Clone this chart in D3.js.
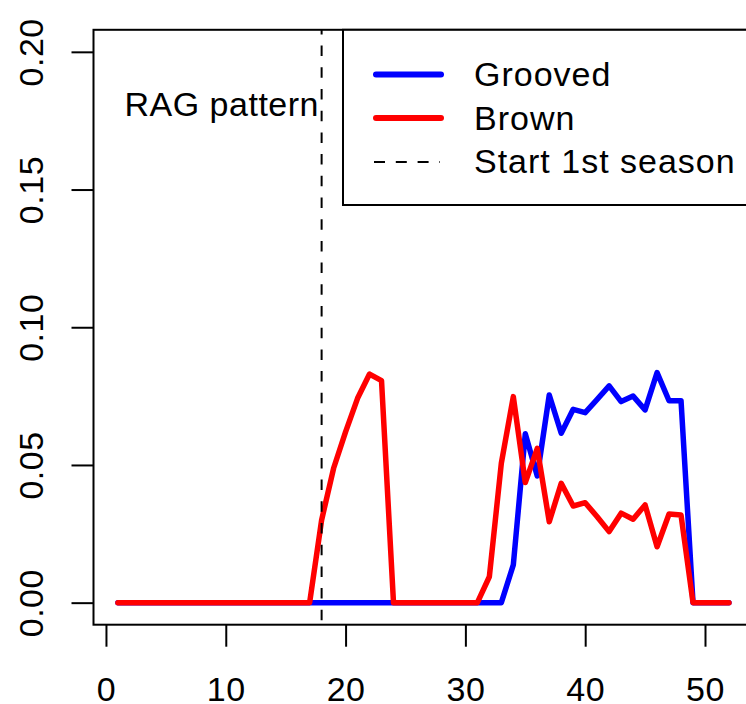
<!DOCTYPE html>
<html>
<head>
<meta charset="utf-8">
<script src="https://cdn.jsdelivr.net/npm/d3@7"></script>
<style>
  html, body { margin: 0; padding: 0; background: #fff; }
  svg text { font-family: "Liberation Sans", Arial, sans-serif; fill: #000; }
</style>
</head>
<body>
<svg id="chart" width="746" height="704"></svg>
<script>
// ---- data ----
const weeks = d3.range(1, 53); // 1..52
const grooved = [0,0,0,0,0,0,0,0,0,0, 0,0,0,0,0,0,0,0,0,0, 0,0,0,0,0,0,0,0,0,0,
  0,0,0,0.0137,0.0613,0.046,0.0754,0.0615,0.0702,0.069, 0.0738,0.0787,0.073,0.075,0.070,0.0835,0.0733,0.0733,0,0, 0,0];
const brown = [0,0,0,0,0,0,0,0,0,0, 0,0,0,0,0,0,0,0.030,0.0488,0.062, 0.0742,0.083,0.0806,0,0,0,0,0,0,0,
  0,0.0094,0.0506,0.0748,0.0436,0.056,0.0294,0.0433,0.0351,0.0363, 0.0312,0.0258,0.0325,0.0303,0.0355,0.0203,0.0322,0.0318,0,0, 0,0];
const xTicks = [0, 10, 20, 30, 40, 50];
const yTicks = [0, 0.05, 0.10, 0.15, 0.20];
const seasonStart = 18;
const legendLabels = ["Grooved", "Brown", "Start 1st season"];
const annotation = "RAG pattern";

// ---- layout ----
const svg = d3.select("#chart");
const x = d3.scaleLinear().domain([-1.04, 54.04]).range([93.5, 753.4]);
const y = d3.scaleLinear().domain([-0.008, 0.208]).range([624.7, 29.8]);
const FONT = 34;

// x axis
const gx = svg.append("g").attr("transform", `translate(0,${y.range()[0]})`)
  .call(d3.axisBottom(x).tickValues(xTicks).tickSize(22).tickFormat(d3.format("d")));
gx.select(".domain").remove();
gx.selectAll(".tick line").attr("stroke", "#000").attr("stroke-width", 2);
gx.selectAll(".tick text").attr("y", 76.3).attr("dy", null)
  .style("font-size", FONT + "px").style("letter-spacing", "0.5px")
  .attr("font-family", null).attr("fill", "#000");

// y axis
const gy = svg.append("g").attr("transform", `translate(${x.range()[0]},0)`)
  .call(d3.axisLeft(y).tickValues(yTicks).tickSize(22).tickFormat(d3.format(".2f")));
gy.select(".domain").remove();
gy.selectAll(".tick line").attr("stroke", "#000").attr("stroke-width", 2);
gy.selectAll(".tick text").attr("x", 0).attr("dy", null)
  .attr("text-anchor", "middle")
  .attr("transform", "translate(-51,0) rotate(-90)")
  .style("font-size", FONT + "px").style("letter-spacing", "0.5px")
  .attr("font-family", null).attr("fill", "#000");

// clip to plot region
svg.append("clipPath").attr("id", "plotclip").append("rect")
  .attr("x", x.range()[0]).attr("y", y.range()[1])
  .attr("width", x.range()[1] - x.range()[0]).attr("height", y.range()[0] - y.range()[1]);

const plot = svg.append("g").attr("clip-path", "url(#plotclip)");

const line = d3.line().x((d, i) => x(weeks[i])).y(d => y(d));

plot.append("path").datum(grooved).attr("d", line)
  .attr("fill", "none").attr("stroke", "#0000FF").attr("stroke-width", 5.5)
  .attr("stroke-linejoin", "round").attr("stroke-linecap", "round");
plot.append("path").datum(brown).attr("d", line)
  .attr("fill", "none").attr("stroke", "#FF0000").attr("stroke-width", 5.5)
  .attr("stroke-linejoin", "round").attr("stroke-linecap", "round");

// vertical dashed line
plot.append("line")
  .attr("x1", x(seasonStart)).attr("x2", x(seasonStart))
  .attr("y1", y.range()[1]).attr("y2", y.range()[0])
  .attr("stroke", "#000").attr("stroke-width", 2)
  .attr("stroke-dasharray", "10.5,11.2").attr("stroke-dashoffset", 5.9);

// box
svg.append("rect")
  .attr("x", x.range()[0]).attr("y", y.range()[1])
  .attr("width", x.range()[1] - x.range()[0]).attr("height", y.range()[0] - y.range()[1])
  .attr("fill", "none").attr("stroke", "#000").attr("stroke-width", 2);

// annotation
svg.append("text").attr("x", 124.5).attr("y", 116)
  .style("font-size", FONT + "px").style("letter-spacing", "0.5px")
  .text(annotation);

// legend
const lg = svg.append("g");
lg.append("rect").attr("x", 343).attr("y", y.range()[1]).attr("width", 430).attr("height", 205 - y.range()[1])
  .attr("fill", "#fff").attr("stroke", "#000").attr("stroke-width", 2);
const legendColors = ["#0000FF", "#FF0000", "#000"];
const legendY = [74.5, 118, 162];
const baselines = [86, 129.5, 173.3];
legendLabels.forEach((lab, i) => {
  const l = lg.append("line").attr("x1", 376).attr("x2", i < 2 ? 441 : 440)
    .attr("y1", legendY[i]).attr("y2", legendY[i]).attr("stroke", legendColors[i]);
  if (i < 2) {
    l.attr("stroke-width", 6).attr("stroke-linecap", "round");
  } else {
    l.attr("x1", 374).attr("stroke-width", 2).attr("stroke-dasharray", "11,10.8");
  }
  lg.append("text").attr("x", 474).attr("y", baselines[i])
    .style("font-size", FONT + "px").style("letter-spacing", "1px")
    .text(lab);
});
</script>
</body>
</html>
